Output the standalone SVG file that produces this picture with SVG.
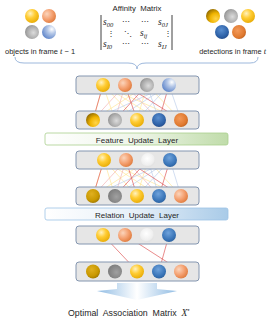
<svg xmlns="http://www.w3.org/2000/svg" width="268" height="325" viewBox="0 0 268 325">
<style>
.t{font-family:"Liberation Sans",Arial,sans-serif;fill:#262626}
.m{font-family:"Liberation Serif","Times New Roman",serif;font-style:italic;fill:#262626}
.box{fill:#e6e6e6;stroke:#8496b0;stroke-width:1}
.ly{stroke:#ffe28a;stroke-width:0.6;fill:none}
.lb{stroke:#b4c7e7;stroke-width:0.6;fill:none}
.lp{stroke:#f2a8a8;stroke-width:0.6;fill:none}
.lr{stroke:#e05a5a;stroke-width:0.7;fill:none}
</style>
<defs>
<radialGradient id="gY" cx="0.38" cy="0.32" r="0.75"><stop offset="0" stop-color="#fff2c0"/><stop offset="0.45" stop-color="#ffcc33"/><stop offset="1" stop-color="#e6a800"/></radialGradient>
<radialGradient id="gYd" cx="0.7" cy="0.7" r="0.8"><stop offset="0" stop-color="#ffd54a"/><stop offset="0.5" stop-color="#f0b400"/><stop offset="1" stop-color="#8a6500"/></radialGradient>
<radialGradient id="gG" cx="0.6" cy="0.55" r="0.8"><stop offset="0" stop-color="#dcdcdc"/><stop offset="0.6" stop-color="#a6a6a6"/><stop offset="1" stop-color="#707070"/></radialGradient>
<radialGradient id="gGd" cx="0.6" cy="0.55" r="0.8"><stop offset="0" stop-color="#a0a0a0"/><stop offset="0.7" stop-color="#7f7f7f"/><stop offset="1" stop-color="#555"/></radialGradient>
<radialGradient id="gO" cx="0.35" cy="0.35" r="0.8"><stop offset="0" stop-color="#fbd5bc"/><stop offset="0.5" stop-color="#f4a070"/><stop offset="1" stop-color="#d9702e"/></radialGradient>
<radialGradient id="gOd" cx="0.4" cy="0.4" r="0.8"><stop offset="0" stop-color="#f39a5a"/><stop offset="0.6" stop-color="#e07a30"/><stop offset="1" stop-color="#a84f12"/></radialGradient>
<radialGradient id="gB" cx="0.7" cy="0.3" r="0.8"><stop offset="0" stop-color="#ffffff"/><stop offset="0.4" stop-color="#b4c7e7"/><stop offset="1" stop-color="#5b82c8"/></radialGradient>
<radialGradient id="gBd" cx="0.45" cy="0.35" r="0.8"><stop offset="0" stop-color="#5a8fd0"/><stop offset="0.6" stop-color="#2e62a8"/><stop offset="1" stop-color="#1f3f78"/></radialGradient>
<radialGradient id="gBm" cx="0.45" cy="0.35" r="0.8"><stop offset="0" stop-color="#6fa3dc"/><stop offset="0.6" stop-color="#3a75b8"/><stop offset="1" stop-color="#23548c"/></radialGradient>
<radialGradient id="gW" cx="0.45" cy="0.4" r="0.8"><stop offset="0" stop-color="#ffffff"/><stop offset="0.6" stop-color="#eeeeee"/><stop offset="1" stop-color="#c8c8c8"/></radialGradient>
<radialGradient id="gK" cx="0.4" cy="0.35" r="0.8"><stop offset="0" stop-color="#e0b020"/><stop offset="0.6" stop-color="#c89800"/><stop offset="1" stop-color="#8a6600"/></radialGradient>
<linearGradient id="gFeat" x1="0" y1="0" x2="1" y2="0"><stop offset="0" stop-color="#ffffff"/><stop offset="0.5" stop-color="#eef5e8"/><stop offset="1" stop-color="#c0dcaa"/></linearGradient>
<linearGradient id="gRel" x1="0" y1="0" x2="1" y2="0"><stop offset="0" stop-color="#ffffff"/><stop offset="0.5" stop-color="#e6eff8"/><stop offset="1" stop-color="#a9cbe8"/></linearGradient>
<linearGradient id="gArr" x1="0" y1="0" x2="1" y2="0"><stop offset="0" stop-color="#8fbbe3"/><stop offset="0.5" stop-color="#ffffff"/><stop offset="1" stop-color="#8fbbe3"/></linearGradient>
</defs>

<g id="objects">
<circle cx="32" cy="16" r="7" fill="url(#gY)"/>
<circle cx="49" cy="16" r="7" fill="url(#gO)"/>
<circle cx="32" cy="32" r="7" fill="url(#gG)"/>
<circle cx="49" cy="32" r="7" fill="url(#gB)"/>
<text class="t" x="5" y="54" font-size="7.5">objects in frame <tspan class="m" font-size="8.5">t</tspan> − 1</text>
</g>

<g id="detections">
<circle cx="213" cy="16" r="7" fill="url(#gYd)"/>
<circle cx="231" cy="16" r="7" fill="url(#gG)"/>
<circle cx="248" cy="16" r="7" fill="url(#gY)"/>
<circle cx="222" cy="32" r="7" fill="url(#gBd)"/>
<circle cx="239" cy="32" r="7" fill="url(#gOd)"/>
<text class="t" x="266" y="54" font-size="7.4" text-anchor="end">detections in frame <tspan class="m" font-size="8.5">t</tspan></text>
</g>

<g id="affinity">
<text class="t" x="137" y="11" font-size="7.8" text-anchor="middle" xml:space="preserve">Affinity  Matrix</text>
<line x1="101" y1="15" x2="101" y2="50" stroke="#404040" stroke-width="1"/>
<line x1="172" y1="15" x2="172" y2="50" stroke="#404040" stroke-width="1"/>
<g font-size="9.5">
<text class="m" x="103" y="25">s<tspan font-size="6.5" dy="1.5">00</tspan></text>
<text class="t" x="122" y="24" font-size="7.5">⋯</text>
<text class="t" x="141" y="24" font-size="7.5">⋯</text>
<text class="m" x="158" y="25">s<tspan font-size="6.5" dy="1.5">0J</tspan></text>
<text class="t" x="107" y="36" font-size="8">⋮</text>
<text class="t" x="124" y="36" font-size="8">⋱</text>
<text class="m" x="140" y="36">s<tspan font-size="6.5" dy="1.5">ij</tspan></text>
<text class="t" x="164" y="36" font-size="8">⋮</text>
<text class="m" x="103" y="47">s<tspan font-size="6.5" dy="1.5">I0</tspan></text>
<text class="t" x="122" y="46" font-size="7.5">⋯</text>
<text class="t" x="141" y="46" font-size="7.5">⋯</text>
<text class="m" x="158" y="47">s<tspan font-size="6.5" dy="1.5">IJ</tspan></text>
</g>
</g>

<path id="brace" d="M15,57 Q15,63 24,63 L128,63 Q137,63 137,69 Q137,63 146,63 L250,63 Q258,63 258,57" fill="none" stroke="#9db8dc" stroke-width="1"/>

<g id="connectors">
<g class="ly">
<path d="M103,85L93,120M103,85L115,120M103,85L137,120M103,85L159,120M103,85L181,120"/>
<path d="M147,85L93,120M147,85L137,120M147,85L181,120"/>
</g>
<g class="lp">
<path d="M125,85L93,120M125,85L115,120M125,85L159,120"/>
</g>
<g class="lb">
<path d="M169,85L93,120M169,85L115,120M169,85L137,120M169,85L181,120M147,85L159,120"/>
</g>
<g class="lr">
<path d="M103,85L93,120M125,85L137,120M125,85L181,120M147,85L115,120M169,85L159,120"/>
</g>
<g class="ly">
<path d="M104,160L93,196M104,160L115,196M104,160L137,196M104,160L159,196M104,160L181,196"/>
<path d="M148,160L93,196M148,160L137,196M148,160L181,196"/>
</g>
<g class="lp">
<path d="M126,160L93,196M126,160L115,196M126,160L159,196"/>
</g>
<g class="lb">
<path d="M170,160L93,196M170,160L115,196M170,160L137,196M170,160L181,196M148,160L159,196"/>
</g>
<g class="lr">
<path d="M104,160L93,196M126,160L137,196M126,160L181,196M148,160L115,196M170,160L159,196"/>
</g>
<g class="lr">
<path d="M103,235L137,271M125,235L181,271M169,235L159,271"/>
</g>
</g>

<g id="box1">
<rect class="box" x="76" y="76" width="123" height="18" rx="3"/>
<circle cx="103" cy="85" r="7" fill="url(#gY)"/>
<circle cx="125" cy="85" r="7" fill="url(#gO)"/>
<circle cx="147" cy="85" r="7" fill="url(#gG)"/>
<circle cx="169" cy="85" r="7" fill="url(#gB)"/>
</g>
<g id="box2">
<rect class="box" x="76" y="111" width="123" height="18" rx="3"/>
<circle cx="93" cy="120" r="7" fill="url(#gYd)"/>
<circle cx="115" cy="120" r="7" fill="url(#gG)"/>
<circle cx="137" cy="120" r="7" fill="url(#gY)"/>
<circle cx="159" cy="120" r="7" fill="url(#gBd)"/>
<circle cx="181" cy="120" r="7" fill="url(#gOd)"/>
</g>
<g id="feature-layer">
<rect x="45" y="133" width="183" height="12" rx="2" fill="url(#gFeat)" stroke="#a9cf8e" stroke-width="0.8"/>
<text class="t" x="137" y="142.5" font-size="8" text-anchor="middle" xml:space="preserve">Feature  Update  Layer</text>
</g>
<g id="box3">
<rect class="box" x="76" y="151" width="123" height="18" rx="3"/>
<circle cx="104" cy="160" r="7" fill="url(#gY)"/>
<circle cx="126" cy="160" r="7" fill="url(#gO)"/>
<circle cx="148" cy="160" r="7" fill="url(#gW)"/>
<circle cx="170" cy="160" r="7" fill="url(#gBm)"/>
</g>
<g id="box4">
<rect class="box" x="76" y="187" width="123" height="18" rx="3"/>
<circle cx="93" cy="196" r="7" fill="url(#gK)"/>
<circle cx="115" cy="196" r="7" fill="url(#gGd)"/>
<circle cx="137" cy="196" r="7" fill="url(#gY)"/>
<circle cx="159" cy="196" r="7" fill="url(#gBm)"/>
<circle cx="181" cy="196" r="7" fill="url(#gO)"/>
</g>
<g id="relation-layer">
<rect x="45" y="208" width="183" height="12" rx="2" fill="url(#gRel)" stroke="#9dc3e6" stroke-width="0.8"/>
<text class="t" x="137" y="217.5" font-size="8" text-anchor="middle" xml:space="preserve">Relation  Update  Layer</text>
</g>
<g id="box5">
<rect class="box" x="76" y="226" width="123" height="18" rx="3"/>
<circle cx="103" cy="235" r="7" fill="url(#gY)"/>
<circle cx="125" cy="235" r="7" fill="url(#gO)"/>
<circle cx="147" cy="235" r="7" fill="url(#gW)"/>
<circle cx="169" cy="235" r="7" fill="url(#gBm)"/>
</g>
<g id="box6">
<rect class="box" x="76" y="262" width="123" height="19" rx="3"/>
<circle cx="93" cy="271.5" r="7" fill="url(#gK)"/>
<circle cx="115" cy="271.5" r="7" fill="url(#gGd)"/>
<circle cx="137" cy="271.5" r="7" fill="url(#gY)"/>
<circle cx="159" cy="271.5" r="7" fill="url(#gBm)"/>
<circle cx="181" cy="271.5" r="7" fill="url(#gO)"/>
</g>
<g id="output">
<path d="M117,283 L157,283 L157,289 L177,291 L137,300 L97,291 L117,289 Z" fill="url(#gArr)"/>
<text class="t" x="68" y="316" font-size="8.8" xml:space="preserve">Optimal  Association  Matrix  <tspan class="m" font-size="9.5">X</tspan><tspan font-size="6" dy="-3">*</tspan></text>
</g>
</svg>
